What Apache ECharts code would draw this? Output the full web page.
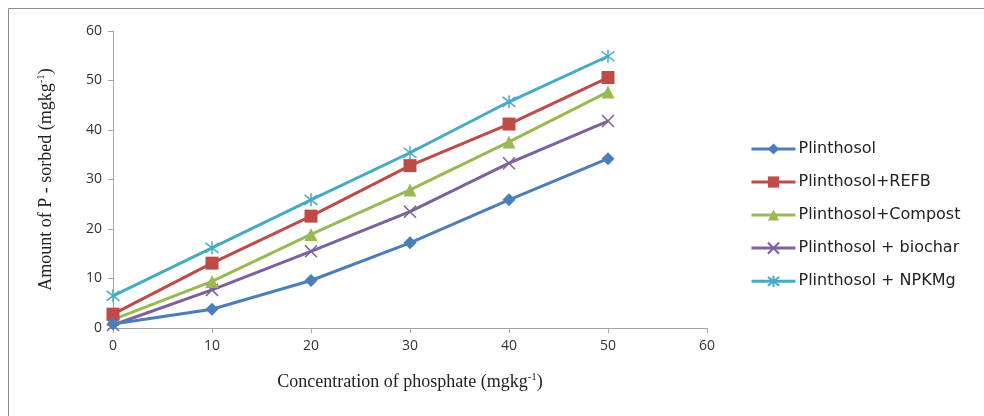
<!DOCTYPE html>
<html>
<head>
<meta charset="utf-8">
<script src="https://cdn.jsdelivr.net/npm/echarts@6/dist/echarts.min.js"></script>
<style>
html,body{margin:0;padding:0;background:#fff;}
#chart{width:984px;height:416px;}
</style>
</head>
<body>
<div id="chart"></div>
<script>
// concentration of phosphate (x)
var concentration = [0, 10, 20, 30, 40, 50];
// P sorbed
var plinthosol = [0.8, 3.8, 9.6, 17.2, 25.9, 34.2];
var plinthosolRefb = [2.8, 13.1, 22.6, 32.8, 41.2, 50.6];
var plinthosolCompost = [1.7, 9.4, 18.9, 27.9, 37.6, 47.7];
var plinthosolBiochar = [0.6, 7.7, 15.5, 23.5, 33.3, 41.8];
var plinthosolNpkmg = [6.5, 16.2, 25.9, 35.4, 45.7, 54.9];
var seriesNames = ['Plinthosol', 'Plinthosol+REFB', 'Plinthosol+Compost', 'Plinthosol + biochar', 'Plinthosol + NPKMg'];

function pairs(ys){
	var out = [];
	for(let i = 0; i < concentration.length; i++){
		out.push([concentration[i], ys[i]]);
	}
	return out;
}

var myChart = echarts.init(document.getElementById('chart'));

var styles = [
	{color:'#4a7ebb', symbol:'diamond', size:13},
	{color:'#be4b48', symbol:'rect', size:13},
	{color:'#98b954', symbol:'triangle', size:13},
	{color:'#7d60a0', symbol:'path://M0,0L10,10M10,0L0,10', size:12},
	{color:'#46aac5', symbol:'path://M0,0L10,10M10,0L0,10M5,-1.5L5,11.5', size:13}
];
var values = [plinthosol, plinthosolRefb, plinthosolCompost, plinthosolBiochar, plinthosolNpkmg];

var series = [];
for(let i = 0; i < seriesNames.length; i++){
	var st = styles[i];
	var isLineSymbol = i >= 3;
	series.push({
		name: seriesNames[i],
		type: 'line',
		data: pairs(values[i]),
		symbol: st.symbol,
		symbolSize: st.size,
		showAllSymbol: true,
		lineStyle: {color: st.color, width: 3},
		itemStyle: isLineSymbol ? {color: 'none', borderColor: st.color, borderWidth: 1.5} : {color: st.color, borderWidth: 0},
		emphasis: {disabled: true},
		z: 10 - i
	});
}

var supStyle = {fontFamily: 'Liberation Serif', fontSize: 11, color: '#222', verticalAlign: 'top', padding: [0, 0, 9, 0]};

var option = {
	backgroundColor: '#fff',
	animation: false,
	graphic: [{
		type: 'rect',
		shape: {x: 8.5, y: 8.5, width: 1000, height: 420},
		style: {fill: 'none', stroke: '#8c8c8c', lineWidth: 1}
	}],
	grid: {left: 113, right: 277, top: 31, bottom: 88},
	legend: {
		orient: 'vertical',
		left: 745,
		top: 136,
		itemWidth: 44,
		itemHeight: 14,
		itemGap: 17,
		data: seriesNames,
		lineStyle: {width: 3},
		textStyle: {fontFamily: 'DejaVu Sans', fontSize: 16, color: '#222', padding: [0, 0, 0, -2]}
	},
	xAxis: {
		type: 'value',
		min: 0,
		max: 60,
		interval: 10,
		name: 'Concentration of phosphate (mgkg{sup|-1})',
		nameLocation: 'middle',
		nameGap: 44,
		nameTextStyle: {fontFamily: 'Liberation Serif', fontSize: 18, color: '#222', rich: {sup: supStyle}},
		axisLine: {lineStyle: {color: '#a6a6a6', width: 1}},
		axisTick: {show: true, length: 5, lineStyle: {color: '#a6a6a6'}},
		axisLabel: {fontFamily: 'Open Sans', fontSize: 14, color: '#333', margin: 11},
		splitLine: {show: false}
	},
	yAxis: {
		type: 'value',
		min: 0,
		max: 60,
		interval: 10,
		name: 'Amount of P - sorbed (mgkg{sup|-1})',
		nameLocation: 'middle',
		nameGap: 57,
		nameTextStyle: {fontFamily: 'Liberation Serif', fontSize: 18, color: '#222', rich: {sup: supStyle}},
		axisLine: {show: true, lineStyle: {color: '#a6a6a6', width: 1}},
		axisTick: {show: true, length: 5, lineStyle: {color: '#a6a6a6'}},
		axisLabel: {fontFamily: 'Open Sans', fontSize: 14, color: '#333', margin: 11},
		splitLine: {show: false}
	},
	series: series
};
myChart.setOption(option);
</script>
</body>
</html>
